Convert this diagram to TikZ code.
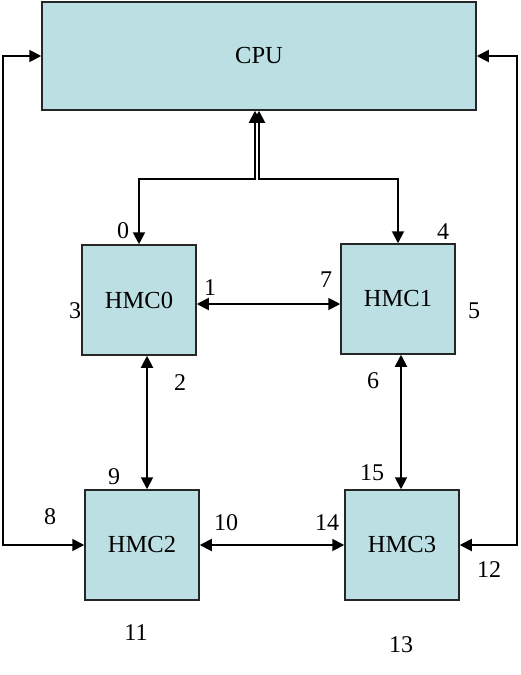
\documentclass[tikz,border=0pt]{standalone}
\usepackage{fontspec}
\setmainfont{Liberation Serif}
\usetikzlibrary{arrows.meta}
\definecolor{boxfill}{RGB}{187,223,226}
\tikzset{
    unit/.style={draw=black!85, line width=1.5pt, fill=boxfill, inner sep=0pt,
        font=\fontsize{24.5}{28}\selectfont},
    hmc/.style={unit, minimum width=114pt, minimum height=110pt},
    dlink/.style={line width=1.9pt, {Triangle[length=12pt,width=12pt]}-{Triangle[length=12pt,width=12pt]}},
    num/.style={inner sep=0pt, font=\fontsize{24}{28}\selectfont}
}
\begin{document}
\begin{tikzpicture}[x=1pt, y=-1pt]
        \useasboundingbox (0,0) rectangle (520,675);
        % boxes
        \node[unit, minimum width=434pt, minimum height=108pt] (cpu) at (259,56) {CPU};
        \node[hmc] (hmc0) at (139,300) {HMC0};
        \node[hmc] (hmc1) at (398,299) {HMC1};
        \node[hmc] (hmc2) at (142,545) {HMC2};
        \node[hmc] (hmc3) at (402,545) {HMC3};
        % turning points
        \coordinate (t0) at (255,179);
        \coordinate (t1) at (259,179);
        \coordinate (lx) at (3,0);
        \coordinate (rx) at (517,0);
        % links
        \draw[dlink] (cpu.south -| t0) -- (t0) -| (hmc0.north);
        \draw[dlink] (cpu.south -| t1) -- (t1) -| (hmc1.north);
        \draw[dlink] ([yshift=-4pt]hmc0.east) -- ([yshift=-4pt]hmc0.east -| hmc1.west);
        \draw[dlink] ([xshift=8pt]hmc0.south) -- ([xshift=8pt]hmc0.south |- hmc2.north);
        \draw[dlink] ([xshift=3pt]hmc1.south) -- ([xshift=3pt]hmc1.south |- hmc3.north);
        \draw[dlink] (hmc2.east) -- (hmc3.west);
        \draw[dlink] (hmc2.west) -- (hmc2.west -| lx) |- (cpu.west);
        \draw[dlink] (cpu.east) -- (cpu.east -| rx) |- (hmc3.east);
        % port numbers
        \foreach \t/\x/\y in {0/123/231, 1/210/288, 2/180/383, 3/75/311,
            4/443/232, 5/474/311, 6/373/381, 7/326/280, 8/50/517, 9/114/477,
            10/226/523, 11/136/633, 12/489/570, 13/401/645, 14/327/523, 15/372/473}{
            \node[num] (p\t) at (\x,\y) {\t};
            }
    \end{tikzpicture}
\end{document}
